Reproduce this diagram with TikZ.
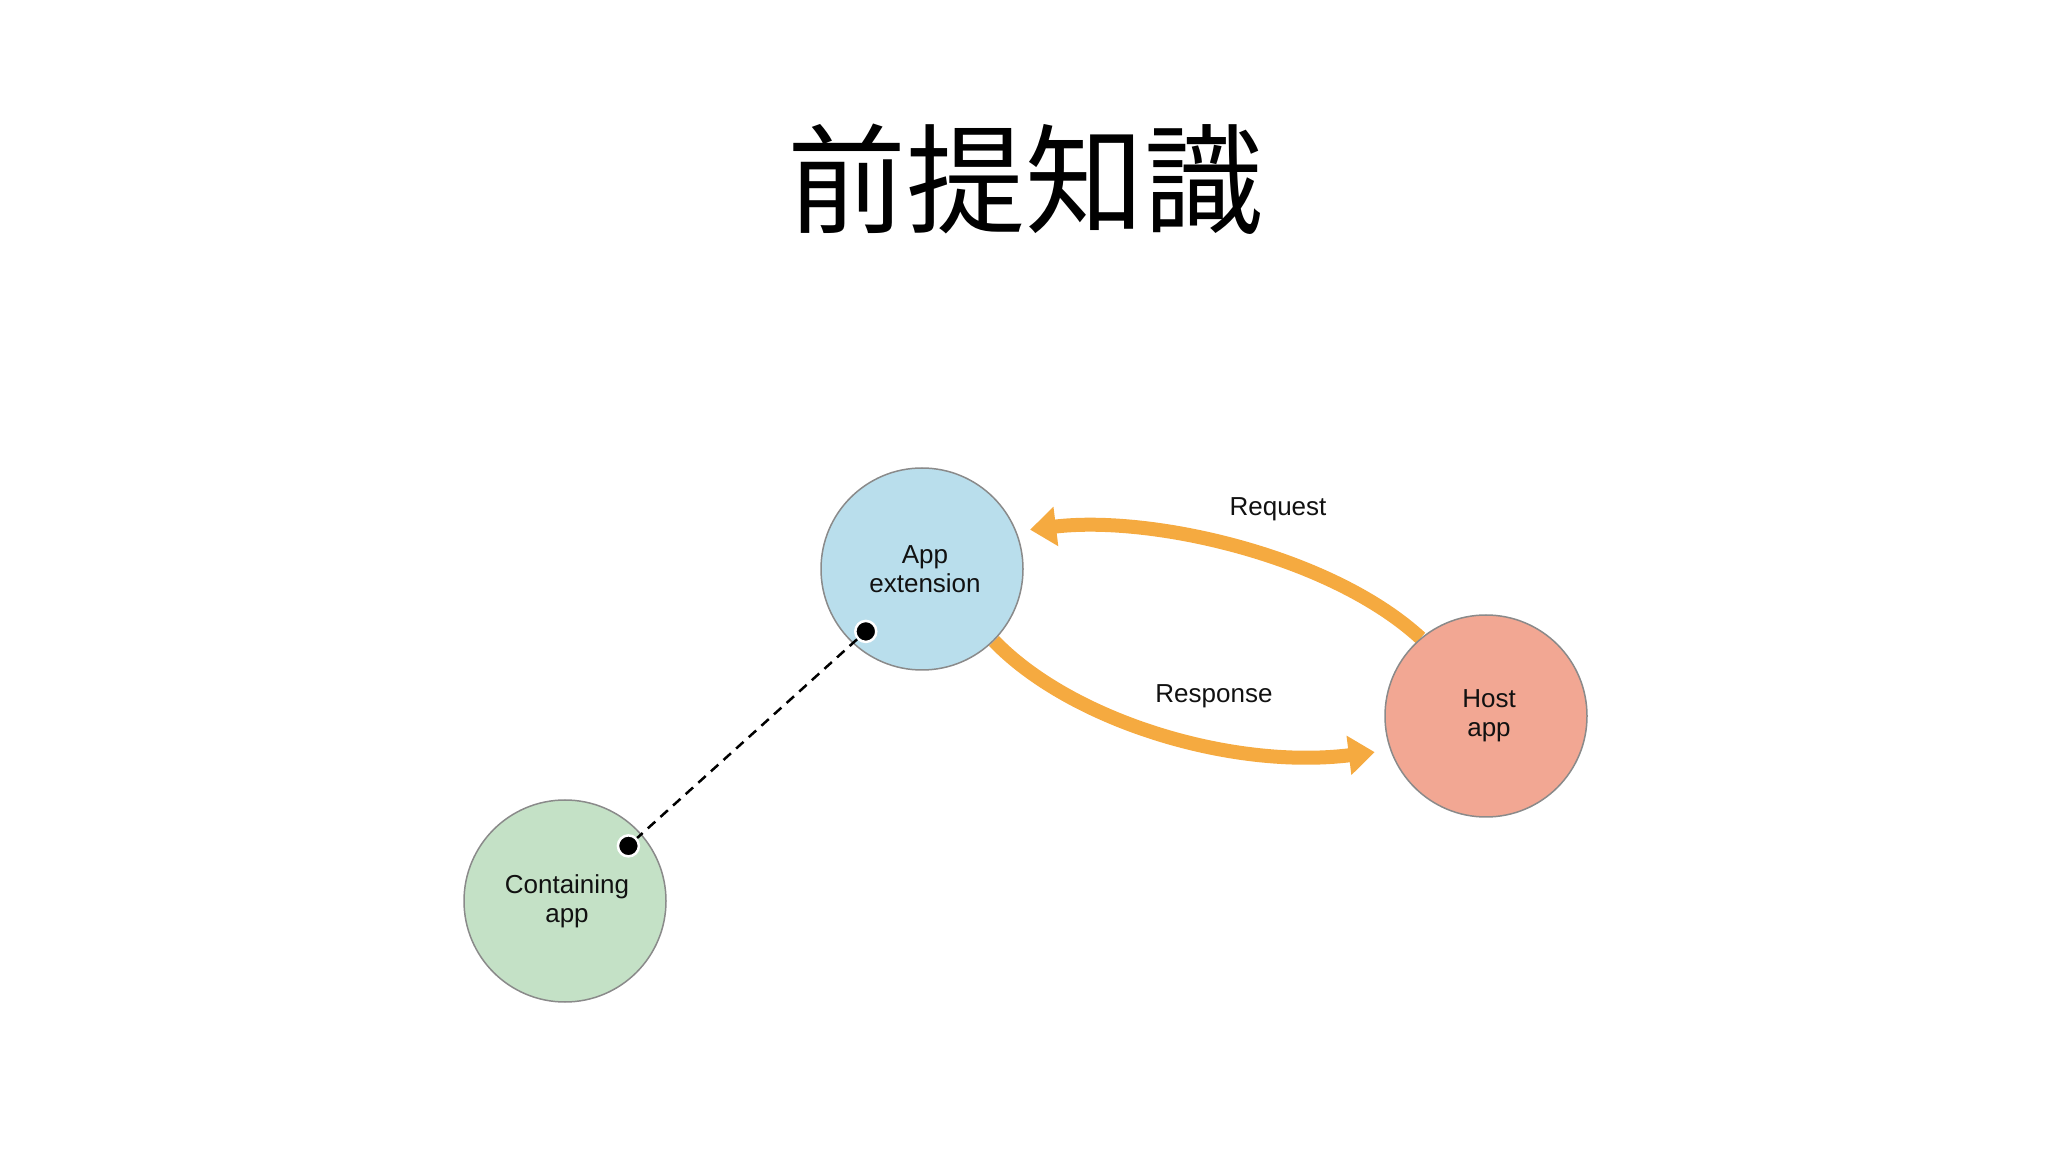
\documentclass[tikz,border=0pt]{standalone}
\usepackage{fontspec}
\setmainfont{Liberation Sans}
\newfontfamily\cjk{Noto Sans CJK JP}
\usetikzlibrary{arrows.meta,backgrounds,calc}
\definecolor{extblue}{HTML}{B9DEEC}
\definecolor{hostred}{HTML}{F2A793}
\definecolor{contgreen}{HTML}{C4E1C6}
\definecolor{arroworange}{HTML}{F5AA40}
\definecolor{rimgray}{HTML}{8A8A8A}
\definecolor{textblack}{HTML}{111111}
\tikzset{
  appcircle/.style={circle, draw=rimgray, line width=1.5pt, minimum size=202pt, inner sep=0pt,
    align=center, text=textblack, font=\fontsize{26}{29}\selectfont},
  flowarrow/.style={draw=arroworange, line width=14pt,
    -{Triangle[width=38pt,length=26pt]}},
  flowlabel/.style={text=textblack, font=\fontsize{26}{29}\selectfont, inner sep=0pt},
  linkdot/.style={circle, fill=black, draw=white, line width=2.5pt, minimum size=21pt, inner sep=0pt},
  linkline/.style={draw=black, line width=2.5pt, dash pattern=on 10pt off 7pt}
}
\begin{document}
\begin{tikzpicture}[x=1pt,y=1pt]
\useasboundingbox (0,0) rectangle (2048,1152);
\node[font=\cjk\fontsize{119}{130}\selectfont, text=black, inner sep=0pt] (title) at (1025,973) {前提知識};

\node[appcircle, fill=extblue] (ext) at (922,583) {\hspace*{6pt}App\\\hspace*{6pt}extension};
\node[appcircle, fill=hostred] (host) at (1486,436) {\hspace*{6pt}Host\\\hspace*{6pt}app};
\node[appcircle, fill=contgreen] (cont) at (565,251) {\raisebox{-3pt}{\hspace*{4pt}Containing}\\\raisebox{-3pt}{\hspace*{4pt}app}};

\coordinate (reqtip) at ($(ext.center)+(20:115)$);
\coordinate (restip) at ($(host.center)+(198:117)$);

\begin{scope}[on background layer]
\draw[flowarrow] (host.130) .. controls (1330,597) and (1150,637) .. (reqtip);
\draw[flowarrow] (ext.-45) .. controls (1070,432) and (1230,382) .. (restip);
\end{scope}

\node[flowlabel] (req) at (1278,643) {Request};
\node[flowlabel] (res) at (1214,456) {Response};

\node[linkdot] (extdot) at ($(ext.center)+(228:84)$) {};
\node[linkdot] (contdot) at ($(cont.center)+(41:84)$) {};
\draw[linkline] (extdot) -- (contdot);
\end{tikzpicture}
\end{document}
